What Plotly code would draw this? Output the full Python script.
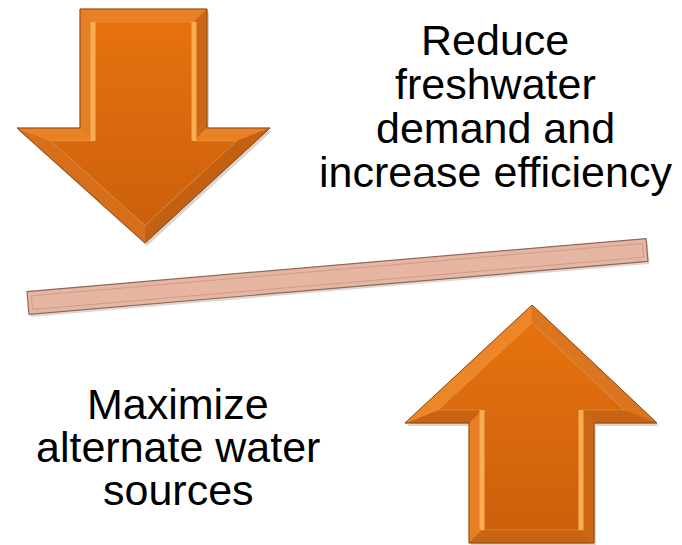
import numpy as np
import plotly.graph_objects as go

W, H = 682, 545
PAGE_PAD = 8  # default body margin of the html page

# text blocks (one entry per line)
TOP_LINES = ["Reduce", "freshwater", "demand and", "increase efficiency"]
BOTTOM_LINES = ["Maximize", "alternate water", "sources"]

# arrow outlines in page pixels (x right, y down)
DOWN_ARROW = [(80, 9), (207, 9), (207, 128), (270, 128), (145, 243), (17, 128), (80, 128)]
UP_ARROW = [(469, 543), (469, 423), (405, 423), (532, 305), (657, 423), (594, 423), (594, 543)]

# tilted bar: two end centres and thickness
BAR_ENDS = [(28, 303), (647, 250)]
BAR_THICK = 23

FACE_TOP = "#e6720e"
FACE_BOTTOM = "#cc600c"
BEVEL_LIGHT = np.array([238, 134, 42])
BEVEL_DARK = np.array([196, 96, 18])
EDGE = "#8a4a14"
HIGHLIGHT = "#f8ad52"


def inset(poly, d):
    """Offset a closed polygon inward by d (handles concave corners)."""
    p = np.array(poly, float)
    n = len(p)
    area = 0.5 * sum(p[i, 0] * p[(i + 1) % n, 1] - p[(i + 1) % n, 0] * p[i, 1] for i in range(n))
    sign = 1 if area > 0 else -1
    lines = []
    for i in range(n):
        a, b = p[i], p[(i + 1) % n]
        t = (b - a) / np.linalg.norm(b - a)
        nin = sign * np.array([-t[1], t[0]])
        lines.append((a + nin * d, t))
    out = []
    for i in range(n):
        (p1, t1), (p2, t2) = lines[i - 1], lines[i]
        m = np.array([t1, -t2]).T
        s = np.linalg.solve(m, p2 - p1)
        out.append(p1 + t1 * s[0])
    return np.array(out), sign


def bevel_traces(poly, d):
    p = np.array(poly, float)
    q, sign = inset(poly, d)
    n = len(p)
    light = np.array([-1, -1.3]) / np.linalg.norm([-1, -1.3])
    traces = []
    for i in range(n):
        j = (i + 1) % n
        t = (p[j] - p[i]) / np.linalg.norm(p[j] - p[i])
        nout = -sign * np.array([-t[1], t[0]])
        k = (np.dot(nout, light) + 1) / 2
        c = (BEVEL_DARK + (BEVEL_LIGHT - BEVEL_DARK) * k).astype(int)
        xs = [p[i, 0], p[j, 0], q[j, 0], q[i, 0], p[i, 0]]
        ys = [p[i, 1], p[j, 1], q[j, 1], q[i, 1], p[i, 1]]
        traces.append(go.Scatter(x=xs, y=ys, mode="lines", fill="toself",
                                 fillcolor=f"rgb({c[0]},{c[1]},{c[2]})",
                                 line=dict(width=0.6, color=f"rgb({c[0]},{c[1]},{c[2]})"),
                                 hoverinfo="skip", showlegend=False))
    # face
    qc = np.vstack([q, q[:1]])
    traces.append(go.Scatter(x=qc[:, 0], y=qc[:, 1], mode="lines", fill="toself",
                             fillgradient=dict(type="vertical",
                                               colorscale=[[0, FACE_BOTTOM], [1, FACE_TOP]]),
                             line=dict(width=0.8, color="rgba(240,150,60,0.7)"),
                             hoverinfo="skip", showlegend=False))
    # bright highlight stripes along the shaft's inner vertical edges
    for i in range(n):
        j = (i + 1) % n
        if abs(q[i, 0] - q[j, 0]) < 0.5:
            traces.append(go.Scatter(x=[q[i, 0], q[j, 0]], y=[q[i, 1], q[j, 1]], mode="lines",
                                     line=dict(width=5, color=HIGHLIGHT),
                                     hoverinfo="skip", showlegend=False))
    # outline
    pc = np.vstack([p, p[:1]])
    traces.append(go.Scatter(x=pc[:, 0], y=pc[:, 1], mode="lines",
                             line=dict(width=1, color=EDGE),
                             hoverinfo="skip", showlegend=False))
    return traces


def shadow(poly, dx=2, dy=3):
    p = np.array(poly + [poly[0]], float)
    return go.Scatter(x=p[:, 0] + dx, y=p[:, 1] + dy, mode="lines", fill="toself",
                      fillcolor="rgba(90,60,40,0.22)", line=dict(width=0),
                      hoverinfo="skip", showlegend=False)


fig = go.Figure()

for arrow in (DOWN_ARROW, UP_ARROW):
    fig.add_trace(shadow(arrow))
    for tr in bevel_traces(arrow, 13):
        fig.add_trace(tr)

# bar
a, b = np.array(BAR_ENDS[0], float), np.array(BAR_ENDS[1], float)
t = (b - a) / np.linalg.norm(b - a)
nrm = np.array([-t[1], t[0]]) * BAR_THICK / 2
bar = [a + nrm, b + nrm, b - nrm, a - nrm]
fig.add_trace(go.Scatter(x=[v[0] + 1.5 for v in bar] + [bar[0][0] + 1.5],
                         y=[v[1] + 2.5 for v in bar] + [bar[0][1] + 2.5],
                         mode="lines", fill="toself", fillcolor="rgba(90,60,40,0.2)",
                         line=dict(width=0), hoverinfo="skip", showlegend=False))
fig.add_trace(go.Scatter(x=[v[0] for v in bar] + [bar[0][0]], y=[v[1] for v in bar] + [bar[0][1]],
                         mode="lines", fill="toself", fillcolor="#e6b6a2",
                         line=dict(width=1.2, color="#8c6b5c"), hoverinfo="skip", showlegend=False))
inner = [a + nrm * 0.6 + t * 4, b + nrm * 0.6 - t * 4, b - nrm * 0.6 - t * 4, a - nrm * 0.6 + t * 4]
fig.add_trace(go.Scatter(x=[v[0] for v in inner] + [inner[0][0]], y=[v[1] for v in inner] + [inner[0][1]],
                         mode="lines", line=dict(width=0.8, color="rgba(175,125,105,0.55)"),
                         hoverinfo="skip", showlegend=False))

FONT = dict(family="Liberation Sans, Arial, sans-serif", size=43, color="black")
for i, txt in enumerate(TOP_LINES):
    fig.add_annotation(x=495, y=40 + 44 * i, text=txt, showarrow=False, font=FONT,
                       xanchor="center", yanchor="middle")
for i, txt in enumerate(BOTTOM_LINES):
    fig.add_annotation(x=178, y=404 + 43 * i, text=txt, showarrow=False, font=FONT,
                       xanchor="center", yanchor="middle")

fig.update_layout(
    width=W, height=H,
    margin=dict(l=0, r=0, t=0, b=0),
    paper_bgcolor="white", plot_bgcolor="white",
    xaxis=dict(range=[PAGE_PAD, W + PAGE_PAD], visible=False, fixedrange=True),
    yaxis=dict(range=[H + PAGE_PAD, PAGE_PAD], visible=False, fixedrange=True),
)

fig.write_html("out.html")
